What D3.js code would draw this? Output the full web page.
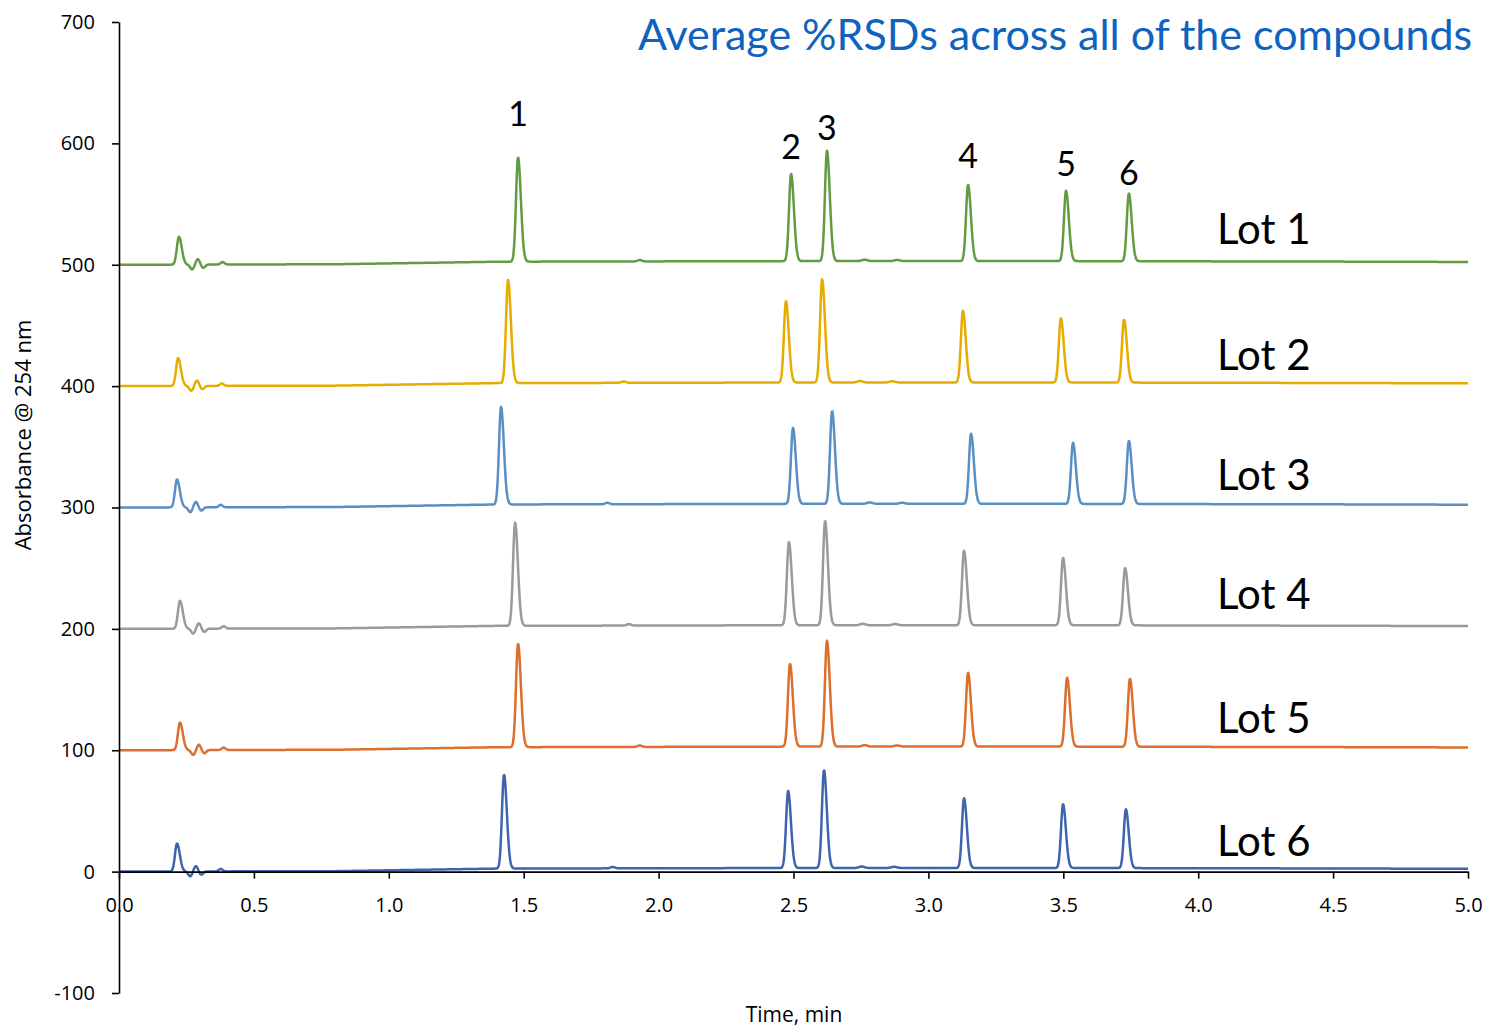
<!DOCTYPE html>
<html>
<head>
<meta charset="utf-8">
<script src="https://cdn.jsdelivr.net/npm/d3@7"></script>
<style>
  body { margin: 0; background: #fff; }
  svg text { font-family: Lato, "Liberation Sans", sans-serif; }
  svg text.small { font-family: "Open Sans", "Liberation Sans", sans-serif; }
</style>
</head>
<body>
<svg id="chart"></svg>
<script>
// ---- data ----
const lots = ["Lot 1", "Lot 2", "Lot 3", "Lot 4", "Lot 5", "Lot 6"];
const lotOffsets = [500, 400, 300, 200, 100, 0];
const lotColors = ["#629b41", "#e6ac00", "#5a8fc4", "#9a9a9a", "#dc6f2c", "#3e64ae"];

// retention times (min) of void peak + peaks 1..6 for each lot
const peakTimes = [
    [0.222, 1.479, 2.491, 2.624, 3.147, 3.510, 3.743],
    [0.219, 1.442, 2.472, 2.606, 3.128, 3.491, 3.725],
    [0.215, 1.416, 2.498, 2.643, 3.158, 3.536, 3.743],
    [0.226, 1.468, 2.483, 2.617, 3.132, 3.499, 3.729],
    [0.226, 1.479, 2.487, 2.624, 3.147, 3.514, 3.747],
    [0.215, 1.427, 2.480, 2.613, 3.132, 3.499, 3.732]
];
// peak heights above baseline (mAU)
const peakHeights = [
    [23, 86, 72, 91, 63, 58, 56],
    [23, 85, 67, 85, 59, 53, 52],
    [23, 80.5, 62.6, 76.6, 57.7, 50.3, 52],
    [23, 85, 68.7, 86, 61.4, 55.6, 47.3],
    [22.7, 85.3, 68.3, 87.2, 61, 56.8, 56],
    [23, 77.4, 63.4, 80.7, 57.5, 52.7, 48.5]
];
// small disturbance after the void peak: [time after void peak, height]
const voidRipple = [[0.049, -4], [0.070, 4.5], [0.090, -2.7], [0.162, 2]];
// small blip near 1.9 min per lot
const blipTimes = [1.93, 1.87, 1.81, 1.89, 1.93, 1.83];
// baseline drift knots [time, offset]
const drift = [[0, 0], [0.8, 0.4], [1.4, 2.5], [2.5, 3], [3.5, 3], [4.5, 2.6], [5, 2.3]];

const peakLabels = ["1", "2", "3", "4", "5", "6"];
const peakLabelY = [614, 587, 603, 580, 573, 566];

const xTicks = [0, 0.5, 1, 1.5, 2, 2.5, 3, 3.5, 4, 4.5, 5];
const yTicks = [-100, 0, 100, 200, 300, 400, 500, 600, 700];

// ---- drawing ----
const svg = d3.select("#chart").attr("width", 1488).attr("height", 1027);

const x = d3.scaleLinear().domain([0, 5]).range([119, 1468]);
const y = d3.scaleLinear().domain([-100, 700]).range([993, 22]);
const driftAt = d3.scaleLinear().domain(drift.map(d => d[0])).range(drift.map(d => d[1]));

function peak(t, t0, h) {
    const s = t < t0 ? 0.0075 : 0.0105;
    return h * Math.exp(-0.5 * ((t - t0) / s) ** 2);
}

function trace(i) {
    const pts = [];
    const tv = peakTimes[i][0];
    for (let k = 0; k <= 2500; k++) {
        const t = k * 0.002;
        let v = lotOffsets[i] + driftAt(t);
        peakTimes[i].forEach((t0, j) => { v += peak(t, t0, peakHeights[i][j]); });
        voidRipple.forEach(r => { v += r[1] * Math.exp(-0.5 * ((t - tv - r[0]) / 0.007) ** 2); });
        v += 1.2 * Math.exp(-0.5 * ((t - blipTimes[i]) / 0.008) ** 2);
        const t3 = peakTimes[i][3];
        v += 1.2 * Math.exp(-0.5 * ((t - t3 - 0.14) / 0.01) ** 2);
        v += 1.0 * Math.exp(-0.5 * ((t - t3 - 0.26) / 0.01) ** 2);
        pts.push([t, v]);
    }
    return pts;
}

const line = d3.line().x(d => x(d[0])).y(d => y(d[1]));

// traces
lots.forEach((name, i) => {
    svg.append("path")
        .datum(trace(i))
        .attr("fill", "none")
        .attr("stroke", lotColors[i])
        .attr("stroke-width", 2.5)
        .attr("stroke-linejoin", "round")
        .attr("d", line);
});

// axes
const yAxis = svg.append("g")
    .attr("transform", `translate(${x(0)},0)`)
    .call(d3.axisLeft(y).tickValues(yTicks).tickSize(7).tickSizeOuter(0).tickPadding(17).tickFormat(d => String(d)));

const xAxis = svg.append("g")
    .attr("transform", `translate(0,${y(0)})`)
    .call(d3.axisBottom(x).tickValues(xTicks).tickSize(7).tickSizeOuter(0).tickPadding(19).tickFormat(d3.format(".1f")));

[yAxis, xAxis].forEach(g => {
    g.selectAll("path, line").attr("stroke", "#000").attr("stroke-width", 1.6);
    g.selectAll("text").attr("class", "small").attr("font-size", 20).attr("fill", "#000");
});

// axis titles
svg.append("text")
    .attr("class", "small")
    .attr("transform", "translate(31,435) rotate(-90)")
    .attr("text-anchor", "middle")
    .attr("font-size", 22)
    .text("Absorbance @ 254 nm");

svg.append("text")
    .attr("class", "small")
    .attr("x", 794).attr("y", 1022)
    .attr("text-anchor", "middle")
    .attr("font-size", 21)
    .text("Time, min");

// lot labels
const lotLabelY = [244, 370, 490, 609, 733, 856];
lots.forEach((name, i) => {
    svg.append("text")
        .attr("x", 1217).attr("y", lotLabelY[i])
        .attr("font-size", 42)
        .attr("fill", "#000")
        .text(name);
});

// peak numbers (above Lot 1 peaks)
peakLabels.forEach((lab, j) => {
    svg.append("text")
        .attr("x", x(peakTimes[0][j + 1]))
        .attr("y", y(peakLabelY[j]))
        .attr("text-anchor", "middle")
        .attr("font-size", 34)
        .text(lab);
});

// title
svg.append("text")
    .attr("x", 638).attr("y", 50)
    .attr("font-size", 43)
    .attr("fill", "#0f63be")
    .text("Average %RSDs across all of the compounds");
</script>
</body>
</html>
